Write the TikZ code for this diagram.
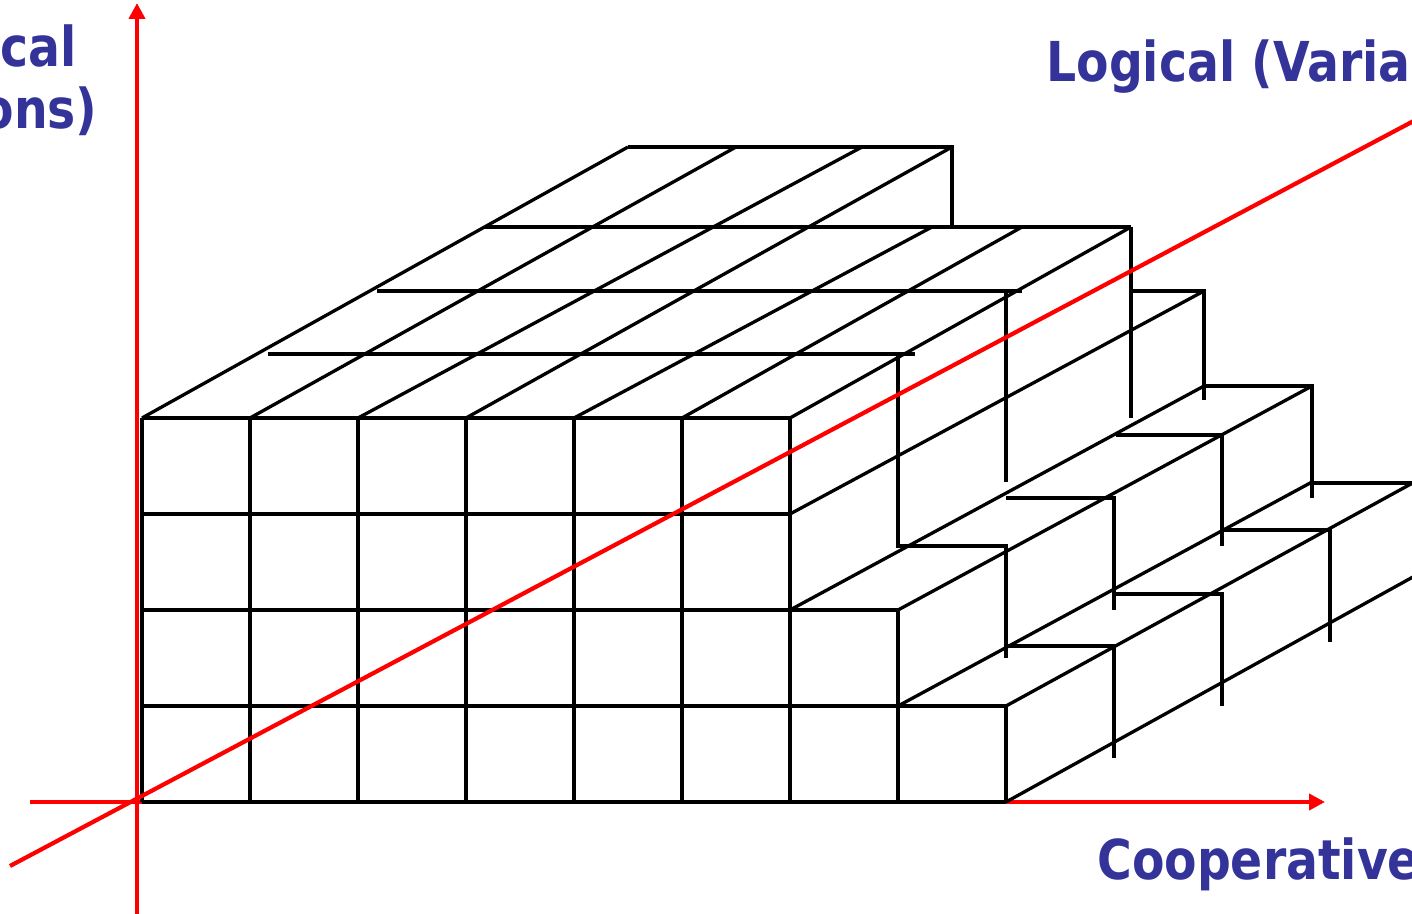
\documentclass[tikz,border=0pt]{standalone}
\usepackage{fontspec}
\usetikzlibrary{arrows.meta}
\newfontfamily\lblfont[FakeStretch=0.86,BoldFont=DejaVu Sans Bold]{DejaVu Sans}
\definecolor{labelblue}{RGB}{51,51,153}
\tikzset{
  cube/.style={black, line width=1.65pt},
  axis/.style={red, line width=2.1pt},
  axisarrow/.style={axis, -{Triangle[length=8pt,width=8pt]}},
  lbl/.style={font=\lblfont\bfseries\fontsize{27.5}{33}\selectfont, text=labelblue, inner sep=0pt}
}
\begin{document}
\begin{tikzpicture}[x=0.5pt,y=-0.5pt]
\useasboundingbox (0,0) rectangle (1412,914);
\clip (0,0) rectangle (1412,914);
% red axes (behind the cubes)
\draw[axisarrow] (137,925) -- (137,3);
\draw[axisarrow] (30,802) -- (1325,802);
% front face grid
\foreach \y/\xr in {418/790,514/790,610/898,706/1006,802/1006}
  \draw[cube] (142,\y) -- (\xr,\y);
\foreach \x in {142,250,358,466,574,682,790}
  \draw[cube] (\x,418) -- (\x,802);
\draw[cube] (898,610) -- (898,802);
\draw[cube] (1006,706) -- (1006,802);
% top face diagonals
\draw[cube] (142,418) -- (628,147);
\draw[cube] (250,418) -- (736,147);
\draw[cube] (358,418) -- (862,147);
\draw[cube] (466,418) -- (952,147);
\draw[cube] (574,418) -- (932,227);
\draw[cube] (682,418) -- (1022,227);
\draw[cube] (790,418) -- (1131,227);
% top face horizontals and back verticals
\draw[cube] (268,354) -- (915,354);
\draw[cube] (377,291) -- (1022,291);
\draw[cube] (485,227) -- (1131,227);
\draw[cube] (628,147) -- (952,147) -- (952,227);
\draw[cube] (1131,227) -- (1131,418);
\draw[cube] (1006,291) -- (1006,482);
\draw[cube] (898,354) -- (898,546) -- (1006,546) -- (1006,658);
% right side, upper levels
\draw[cube] (790,514) -- (1204,291);
\draw[cube] (1131,291) -- (1204,291) -- (1204,400);
\draw[cube] (790,610) -- (1204,386);
\draw[cube] (1204,386) -- (1312,386) -- (1312,498);
\draw[cube] (898,610) -- (1312,386);
\draw[cube] (1006,498) -- (1114,498) -- (1114,610);
\draw[cube] (1116,435) -- (1222,435) -- (1222,546);
% right side, lower level
\draw[cube] (898,706) -- (1312,482);
\draw[cube] (1006,706) -- (1440,468);
\draw[cube] (1312,483) -- (1440,483);
\draw[cube] (1006,646) -- (1114,646) -- (1114,758);
\draw[cube] (1114,594) -- (1222,594) -- (1222,706);
\draw[cube] (1222,530) -- (1330,530) -- (1330,642);
\draw[cube] (1006,802) -- (1440,562);
% red diagonal axis (in front)
\draw[axis] (10,866) -- (1440,107);
% labels
\node[lbl, anchor=base east] (phys1) at (77,67) {cal};
\node[lbl, anchor=base east] (phys2) at (98,129) {ons)};
\node[lbl, anchor=base west] (logi) at (1046,82) {Logical (Varia};
\node[lbl, anchor=base west] (coop) at (1097,879) {Cooperative};
\end{tikzpicture}
\end{document}
